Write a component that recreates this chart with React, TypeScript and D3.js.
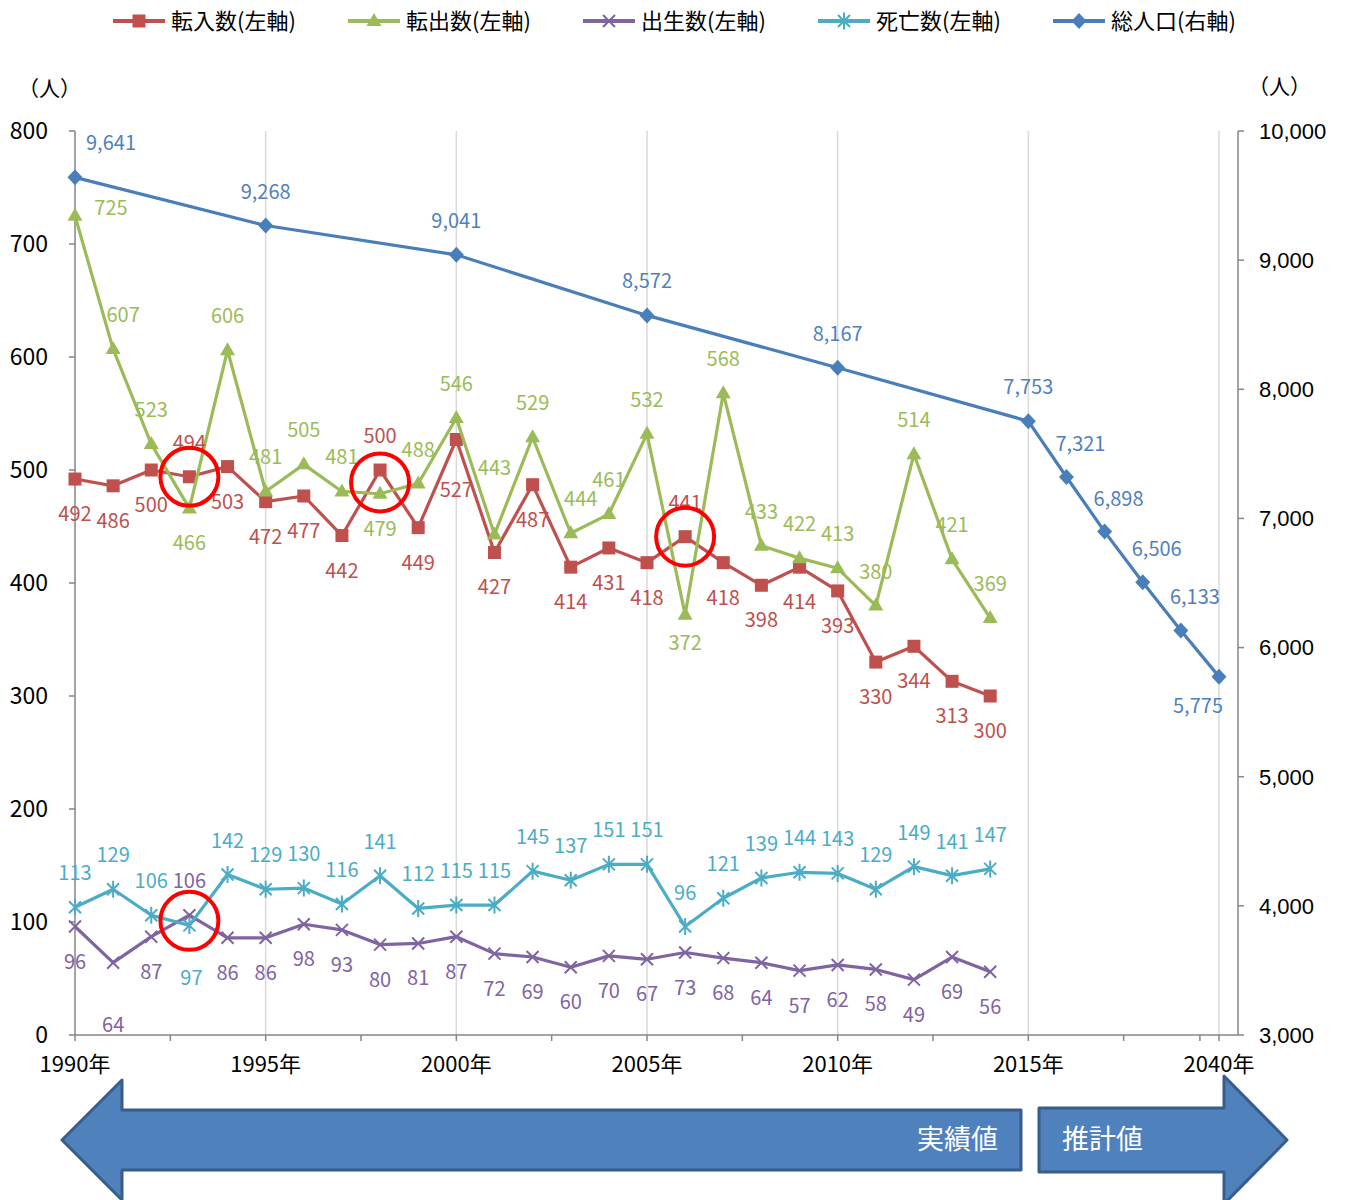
import React from "react";
import * as d3 from "d3";

const categories = [
  "1990","1991","1992","1993","1994","1995","1996","1997","1998","1999",
  "2000","2001","2002","2003","2004","2005","2006","2007","2008","2009",
  "2010","2011","2012","2013","2014","2015","2020","2025","2030","2035","2040",
];
const tickLabelCats = ["1990","1995","2000","2005","2010","2015","2040"];
const tickLabels = ["1990年","1995年","2000年","2005年","2010年","2015年","2040年"];
const minorTickCats = ["1992","1997","2002","2007","2012","2025","2035"];

const annualCats = categories.slice(0, 25);
const inflow = [492,486,500,494,503,472,477,442,500,449,527,427,487,414,431,418,441,418,398,414,393,330,344,313,300];
const outflow = [725,607,523,466,606,481,505,481,479,488,546,443,529,444,461,532,372,568,433,422,413,380,514,421,369];
const births = [96,64,87,106,86,86,98,93,80,81,87,72,69,60,70,67,73,68,64,57,62,58,49,69,56];
const deaths = [113,129,106,97,142,129,130,116,141,112,115,115,145,137,151,151,96,121,139,144,143,129,149,141,147];

const popCats = ["1990","1995","2000","2005","2010","2015","2020","2025","2030","2035","2040"];
const population = [9641,9268,9041,8572,8167,7753,7321,6898,6506,6133,5775];

const leftTicks = [0,100,200,300,400,500,600,700,800];
const rightTicks = [3000,4000,5000,6000,7000,8000,9000,10000];

const highlightCats = ["1993","1998","2006","1993"];
const highlightValues = [494, 489, 441, 101];

const seriesNames = ["転入数(左軸)","転出数(左軸)","出生数(左軸)","死亡数(左軸)","総人口(右軸)"];

// label placement codes (style)
const inPos = "BBBTBBBBTBEBBBBBTBBBBBBBB";
const outPos = "RVTBTTTTBTTHTVTTbTTTTTTTT";
const birthPos = "BFBTBBBBBBBBBBBBBBBBBBBBB";
const deathPos = "TTTDTTTTTTTTTTTTTTTTTTTTT";
const popPos = "UTTTTTQQQQW";

const offsets: Record<string, [number, number]> = {
  T: [0, -34], B: [0, 35], R: [36, -8], V: [10, -34], F: [0, 62], D: [2, 53],
  U: [36, -34], Q: [14, -33], W: [-21, 29], E: [0, 51], H: [0, -66], b: [0, 28],
};

const C = {
  red: "#C0504D", green: "#9BBB59", purple: "#8064A2", cyan: "#4BACC6", blue: "#4A7EBB",
  blueLabel: "#4F81BD",
};

const FONT = "'Noto Sans CJK JP', 'Noto Sans', sans-serif";

function Marker({ kind, color }: { kind: string; color: string }) {
  if (kind === "square") return <rect x={-6.5} y={-6.5} width={13} height={13} fill={color} />;
  if (kind === "triangle") return <path d="M0,-8L7.5,5L-7.5,5Z" fill={color} />;
  if (kind === "x") return <path d="M-6,-6L6,6M-6,6L6,-6" stroke={color} strokeWidth={2} fill="none" />;
  if (kind === "star") return <path d="M-6,-6L6,6M-6,6L6,-6M0,-8.5L0,8.5" stroke={color} strokeWidth={2} fill="none" />;
  return <path d="M0,-8L7.5,0L0,8L-7.5,0Z" fill={color} />;
}

export default function App() {
  const x = d3.scalePoint<string>().domain(categories).range([75, 1219]);
  const yL = d3.scaleLinear().domain([0, 800]).range([1035, 131]);
  const yR = d3.scaleLinear().domain([3000, 10000]).range([1035, 131]);
  const line = d3.line<[number, number]>().x((d) => d[0]).y((d) => d[1]);

  const series = [
    { name: seriesNames[0], color: C.red, label: C.red, marker: "square", cats: annualCats, vals: inflow, y: yL, pos: inPos, fmt: (v: number) => String(v) },
    { name: seriesNames[1], color: C.green, label: C.green, marker: "triangle", cats: annualCats, vals: outflow, y: yL, pos: outPos, fmt: (v: number) => String(v) },
    { name: seriesNames[2], color: C.purple, label: C.purple, marker: "x", cats: annualCats, vals: births, y: yL, pos: birthPos, fmt: (v: number) => String(v) },
    { name: seriesNames[3], color: C.cyan, label: C.cyan, marker: "star", cats: annualCats, vals: deaths, y: yL, pos: deathPos, fmt: (v: number) => String(v) },
    { name: seriesNames[4], color: C.blue, label: C.blueLabel, marker: "diamond", cats: popCats, vals: population, y: yR, pos: popPos, fmt: d3.format(",") },
  ];

  const fmtR = d3.format(",");

  return (
    <svg width={1351} height={1200} style={{ position: "absolute", left: 0, top: 0, background: "#fff" }} fontFamily={FONT}>
      <rect x={0} y={0} width={1351} height={1200} fill="#fff" />
      {/* legend */}
      {series.map((s, i) => {
        const lx = 113 + i * 235;
        return (
          <g key={s.name}>
            <line x1={lx} x2={lx + 52} y1={21} y2={21} stroke={s.color} strokeWidth={4} />
            <g transform={`translate(${lx + 26},21)`}><Marker kind={s.marker} color={s.color} /></g>
            <text x={lx + 58} y={21} dy="0.35em" fontSize={22} fill="#000">{s.name}</text>
          </g>
        );
      })}
      {/* unit labels */}
      <text x={18} y={89} dy="0.35em" fontSize={21} fill="#000">（人）</text>
      <text x={1248} y={87} dy="0.35em" fontSize={21} fill="#000">（人）</text>

      {/* vertical gridlines */}
      {tickLabelCats.slice(1).map((c) => (
        <line key={c} x1={x(c)} x2={x(c)} y1={131} y2={1035} stroke="#D9D9D9" strokeWidth={1.5} />
      ))}
      {/* axes */}
      <line x1={75} x2={75} y1={131} y2={1035} stroke="#868686" strokeWidth={1.5} />
      <line x1={1238} x2={1238} y1={131} y2={1035} stroke="#868686" strokeWidth={1.5} />
      <line x1={75} x2={1238} y1={1035} y2={1035} stroke="#868686" strokeWidth={1.5} />
      {leftTicks.map((t) => (
        <g key={t}>
          <line x1={69} x2={75} y1={yL(t)} y2={yL(t)} stroke="#868686" strokeWidth={1.5} />
          <text x={48} y={yL(t)} dy="0.34em" textAnchor="end" fontSize={23} fill="#000">{t}</text>
        </g>
      ))}
      {rightTicks.map((t) => (
        <g key={t}>
          <line x1={1238} x2={1244} y1={yR(t)} y2={yR(t)} stroke="#868686" strokeWidth={1.5} />
          <text x={1259} y={yR(t)} dy="0.36em" fontSize={22} fill="#000" fontFamily="'Liberation Sans', Arial, sans-serif">{fmtR(t)}</text>
        </g>
      ))}
      {[...tickLabelCats, ...minorTickCats].map((c) => {
        const isMinor = minorTickCats.includes(c);
        const step = x.step();
        const xx = (x(c) as number) + (isMinor ? step / 2 : 0);
        return <line key={"t" + c} x1={xx} x2={xx} y1={1035} y2={1041} stroke="#868686" strokeWidth={1.5} />;
      })}
      {tickLabelCats.map((c, i) => (
        <text key={"l" + c} x={x(c)} y={1064} dy="0.35em" textAnchor="middle" fontSize={22} fill="#000">{tickLabels[i]}</text>
      ))}

      {/* series */}
      {series.map((s) => {
        const pts: [number, number][] = s.vals.map((v, i) => [x(s.cats[i]) as number, s.y(v)]);
        return (
          <g key={s.name}>
            <path d={line(pts) || ""} fill="none" stroke={s.color} strokeWidth={3.2} strokeLinejoin="round" />
            {pts.map((p, i) => (
              <g key={i} transform={`translate(${p[0]},${p[1]})`}><Marker kind={s.marker} color={s.color} /></g>
            ))}
          </g>
        );
      })}
      {/* labels */}
      {series.map((s) => (
        <g key={"lab" + s.name}>
          {s.vals.map((v, i) => {
            const [dx, dy] = offsets[s.pos[i]];
            return (
              <text key={i} x={(x(s.cats[i]) as number) + dx} y={s.y(v) + dy} dy="0.35em" textAnchor="middle" fontSize={20} fill={s.label}>
                {s.fmt(v)}
              </text>
            );
          })}
        </g>
      ))}

      {/* highlight circles */}
      {highlightCats.map((c, i) => (
        <circle key={"h" + i} cx={x(c)} cy={yL(highlightValues[i])} r={29} fill="none" stroke="#FF0000" strokeWidth={4} />
      ))}

      {/* bottom arrows */}
      <path d="M62,1140 L122,1080 L122,1110 L1021,1110 L1021,1170 L122,1170 L122,1200 Z" fill="#4F81BD" stroke="#385D8A" strokeWidth={3} strokeLinejoin="round" />
      <text x={998} y={1140} dy="0.35em" textAnchor="end" fontSize={27} fill="#fff">実績値</text>
      <path d="M1039,1108 L1224,1108 L1224,1076 L1287,1140 L1224,1204 L1224,1172 L1039,1172 Z" fill="#4F81BD" stroke="#385D8A" strokeWidth={3} strokeLinejoin="round" />
      <text x={1062} y={1140} dy="0.35em" fontSize={27} fill="#fff">推計値</text>
    </svg>
  );
}
